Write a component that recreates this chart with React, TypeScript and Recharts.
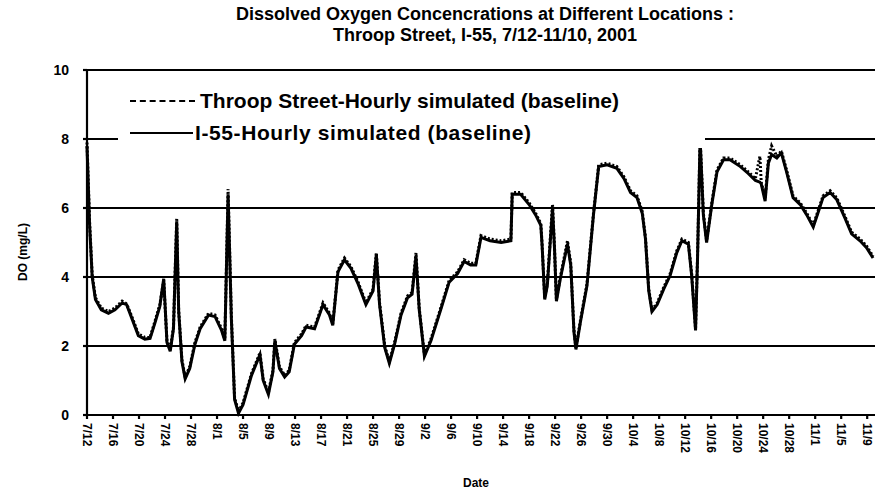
import React from "react";
import {
  LineChart,
  Line,
  XAxis,
  YAxis,
  CartesianGrid,
} from "recharts";

// day offset from 7/12/2001
const days = [
  0, 0.4, 0.8, 1.3, 2.2, 3.3, 4.3, 5.4, 6.1, 6.9, 7.9, 8.9, 9.7, 10.5, 11.2, 11.8,
  12.3, 12.8, 13.3, 13.8, 14.1, 14.6, 15.1, 15.8, 16.6, 17.4, 18.7, 19.7, 20.7,
  21.2, 21.7, 22.2, 22.7, 23.3, 24, 25.3, 26.6, 27.1, 27.9, 28.6, 28.9, 29.6, 30.4,
  31.1, 31.9, 33, 33.7, 35, 36.3, 37.3, 37.8, 38.6, 39.6, 40.6, 41.7, 42.9, 44,
  44.5, 45, 45.8, 46.5, 47.3, 48.3, 49.3, 50, 50.6, 51.1, 51.9, 52.9, 54.4, 55.7,
  57, 58, 59, 59.8, 60.6, 61.3, 62, 63.7, 65.2, 65.4, 66.7, 68, 69, 69.8, 70, 70.4,
  70.8, 71.6, 71.9, 72.2, 72.8, 73.9, 74.4, 74.9, 75.2, 75.9, 76.9, 77.9, 78.7, 80,
  81.5, 82.6, 83.6, 84.6, 85.4, 85.9, 86.4, 86.9, 87.7, 88.7, 89.7, 90.7, 91.5,
  92.5, 93, 93.6, 93.9, 94.3, 94.8, 95.3, 96.1, 96.9, 97.9, 98.9, 100.5, 101.7,
  102.8, 103.5, 103.7, 104.3, 104.8, 105.3, 106.1, 106.8, 107.6, 108.6, 109.7,
  110.7, 111.7, 112.5, 113.2, 114.3, 115.3, 116.6, 117.6, 118.9, 119.9, 120.9,
];

const i55 = [
  7.8, 5.5, 4.0, 3.35, 3.05, 2.95, 3.05, 3.25, 3.2, 2.8, 2.3, 2.2, 2.22, 2.7, 3.15, 3.95,
  2.1, 1.85, 2.5, 5.6, 3.0, 1.55, 1.05, 1.35, 2.05, 2.5, 2.9, 2.85, 2.45,
  2.15, 6.4, 2.8, 0.45, 0.05, 0.3, 1.15, 1.75, 1.0, 0.6, 1.25, 2.15, 1.35, 1.1,
  1.25, 2.05, 2.3, 2.55, 2.5, 3.2, 2.9, 2.6, 4.15, 4.5, 4.25, 3.8, 3.2, 3.6,
  4.65, 3.2, 1.95, 1.5, 2.05, 2.9, 3.4, 3.5, 4.6, 3.05, 1.7, 2.15, 3.05, 3.85,
  4.1, 4.45, 4.35, 4.35, 5.15, 5.1, 5.05, 5.0, 5.05, 6.4, 6.4, 6.1, 5.8, 5.5, 4.9, 3.35,
  3.75, 6.0, 4.85, 3.3, 3.95, 4.95, 4.35, 2.4, 1.9, 2.7, 3.75, 5.8, 7.2, 7.25,
  7.15, 6.85, 6.45, 6.3, 5.85, 5.1, 3.6, 3.0, 3.2, 3.65, 4.05, 4.7, 5.05,
  4.95, 4.05, 2.45, 4.5, 8.0, 5.8, 5.0, 6.1, 7.05, 7.4, 7.4, 7.2, 7.0,
  6.8, 6.75, 6.7, 6.2, 7.3, 7.55, 7.45, 7.6, 7.05, 6.3, 6.1,
  5.8, 5.45, 5.9, 6.3, 6.45, 6.25, 5.7, 5.25, 5.05, 4.85, 4.55,
];

const throop = [
  7.9, 5.6, 4.05, 3.4, 3.1, 3.0, 3.1, 3.3, 3.22, 2.85, 2.35, 2.25, 2.25, 2.75, 3.2, 3.9,
  2.15, 1.9, 2.55, 5.7, 3.05, 1.6, 1.1, 1.4, 2.1, 2.55, 2.95, 2.9, 2.5,
  2.2, 6.55, 2.9, 0.5, 0.1, 0.35, 1.2, 1.8, 1.05, 0.65, 1.3, 2.2, 1.4, 1.15,
  1.3, 2.1, 2.35, 2.6, 2.55, 3.25, 2.95, 2.65, 4.2, 4.55, 4.3, 3.85, 3.25, 3.65,
  4.7, 3.25, 2.0, 1.55, 2.1, 2.95, 3.45, 3.55, 4.7, 3.1, 1.75, 2.2, 3.1, 3.9,
  4.15, 4.5, 4.4, 4.4, 5.2, 5.15, 5.1, 5.05, 5.1, 6.45, 6.45, 6.15, 5.85, 5.55, 4.95, 3.4,
  3.8, 6.1, 4.9, 3.35, 4.0, 5.05, 4.4, 2.45, 1.95, 2.75, 3.8, 5.85, 7.25, 7.3,
  7.2, 6.9, 6.5, 6.35, 5.9, 5.15, 3.65, 3.05, 3.25, 3.7, 4.1, 4.75, 5.1,
  5.0, 4.1, 2.5, 4.55, 8.05, 5.85, 5.05, 6.15, 7.1, 7.45, 7.45, 7.25, 7.05,
  6.85, 7.5, 6.75, 6.3, 7.4, 7.8, 7.5, 7.65, 7.1, 6.35, 6.15,
  5.85, 5.5, 5.95, 6.35, 6.5, 6.3, 5.75, 5.3, 5.1, 4.9, 4.6,
];

const tickDays = [
  0, 4, 8, 12, 16, 20, 24, 28, 32, 36, 40, 44, 48, 52, 56, 60, 64, 68, 72, 76, 80,
  84, 88, 92, 96, 100, 104, 108, 112, 116, 120,
];
const tickLabels = [
  "7/12", "7/16", "7/20", "7/24", "7/28", "8/1", "8/5", "8/9", "8/13", "8/17",
  "8/21", "8/25", "8/29", "9/2", "9/6", "9/10", "9/14", "9/18", "9/22", "9/26",
  "9/30", "10/4", "10/8", "10/12", "10/16", "10/20", "10/24", "10/28", "11/1",
  "11/5", "11/9",
];
const yTicks = [0, 2, 4, 6, 8, 10];

const data = days.map((d, i) => ({ day: d, i55: i55[i], throop: throop[i] }));

const font = "'Liberation Sans', Arial, sans-serif";

function DateTick(props: any) {
  const { x, y, payload } = props;
  const idx = tickDays.indexOf(payload.value);
  return (
    <g transform={`translate(${x},${y})`}>
      <text
        transform="rotate(90)"
        x={2}
        y={0}
        dominantBaseline="central"
        textAnchor="start"
        fontSize={12}
        fontWeight={700}
        fontFamily={font}
        fill="#000"
      >
        {tickLabels[idx]}
      </text>
    </g>
  );
}

export default function App() {
  return (
    <div style={{ position: "absolute", left: 0, top: 0, width: 882, height: 497, background: "#fff", fontFamily: font }}>
      <LineChart
        width={882}
        height={497}
        data={data}
        margin={{ top: 70, right: 7, bottom: 37, left: 0 }}
      >
        <CartesianGrid vertical={false} stroke="#000" strokeWidth={1.8} />
        <XAxis
          dataKey="day"
          type="number"
          domain={[0, 121.2]}
          ticks={tickDays}
          interval={0}
          height={45}
          tick={<DateTick />}
          tickSize={4}
          tickMargin={2}
          stroke="#000"
          strokeWidth={2.2}
        />
        <YAxis
          type="number"
          domain={[0, 10]}
          ticks={yTicks}
          width={87}
          tickSize={4}
          tickMargin={14}
          stroke="#000"
          strokeWidth={2.2}
          tick={{ fill: "#000", fontSize: 14, fontWeight: 700, fontFamily: font }}
        />
        <Line
          dataKey="i55"
          stroke="#000"
          strokeWidth={3}
          dot={false}
          isAnimationActive={false}
        />
        <Line
          dataKey="throop"
          stroke="#000"
          strokeWidth={3}
          strokeDasharray="2 2"
          dot={false}
          isAnimationActive={false}
        />
      </LineChart>

      <div
        style={{
          position: "absolute",
          left: 135,
          top: 4,
          width: 700,
          textAlign: "center",
          fontSize: 18,
          fontWeight: 700,
          lineHeight: "21px",
          color: "#000",
        }}
      >
        <div>Dissolved Oxygen Concencrations at Different Locations :</div>
        <div>Throop Street, I-55, 7/12-11/10, 2001</div>
      </div>

      <div
        style={{
          position: "absolute",
          left: 118,
          top: 86,
          width: 587,
          height: 62,
          background: "#fff",
          fontSize: 21,
          fontWeight: 700,
          color: "#000",
        }}
      >
        <div style={{ position: "absolute", left: 12, top: 14, width: 65, borderTop: "2px dashed #000" }} />
        <div style={{ position: "absolute", left: 82, top: 3, whiteSpace: "nowrap", lineHeight: "24px" }}>
          Throop Street-Hourly simulated (baseline)
        </div>
        <div style={{ position: "absolute", left: 12, top: 46, width: 63, borderTop: "2px solid #000" }} />
        <div style={{ position: "absolute", left: 77, top: 35, whiteSpace: "nowrap", lineHeight: "24px", letterSpacing: 0.6 }}>
          I-55-Hourly simulated (baseline)
        </div>
      </div>

      <div
        style={{
          position: "absolute",
          left: 23,
          top: 252,
          transform: "translate(-50%, -50%) rotate(-90deg)",
          fontSize: 12,
          fontWeight: 700,
          whiteSpace: "nowrap",
          color: "#000",
        }}
      >
        DO (mg/L)
      </div>

      <div
        style={{
          position: "absolute",
          left: 476,
          top: 483,
          transform: "translate(-50%, -50%)",
          fontSize: 12,
          fontWeight: 700,
          color: "#000",
        }}
      >
        Date
      </div>
    </div>
  );
}
